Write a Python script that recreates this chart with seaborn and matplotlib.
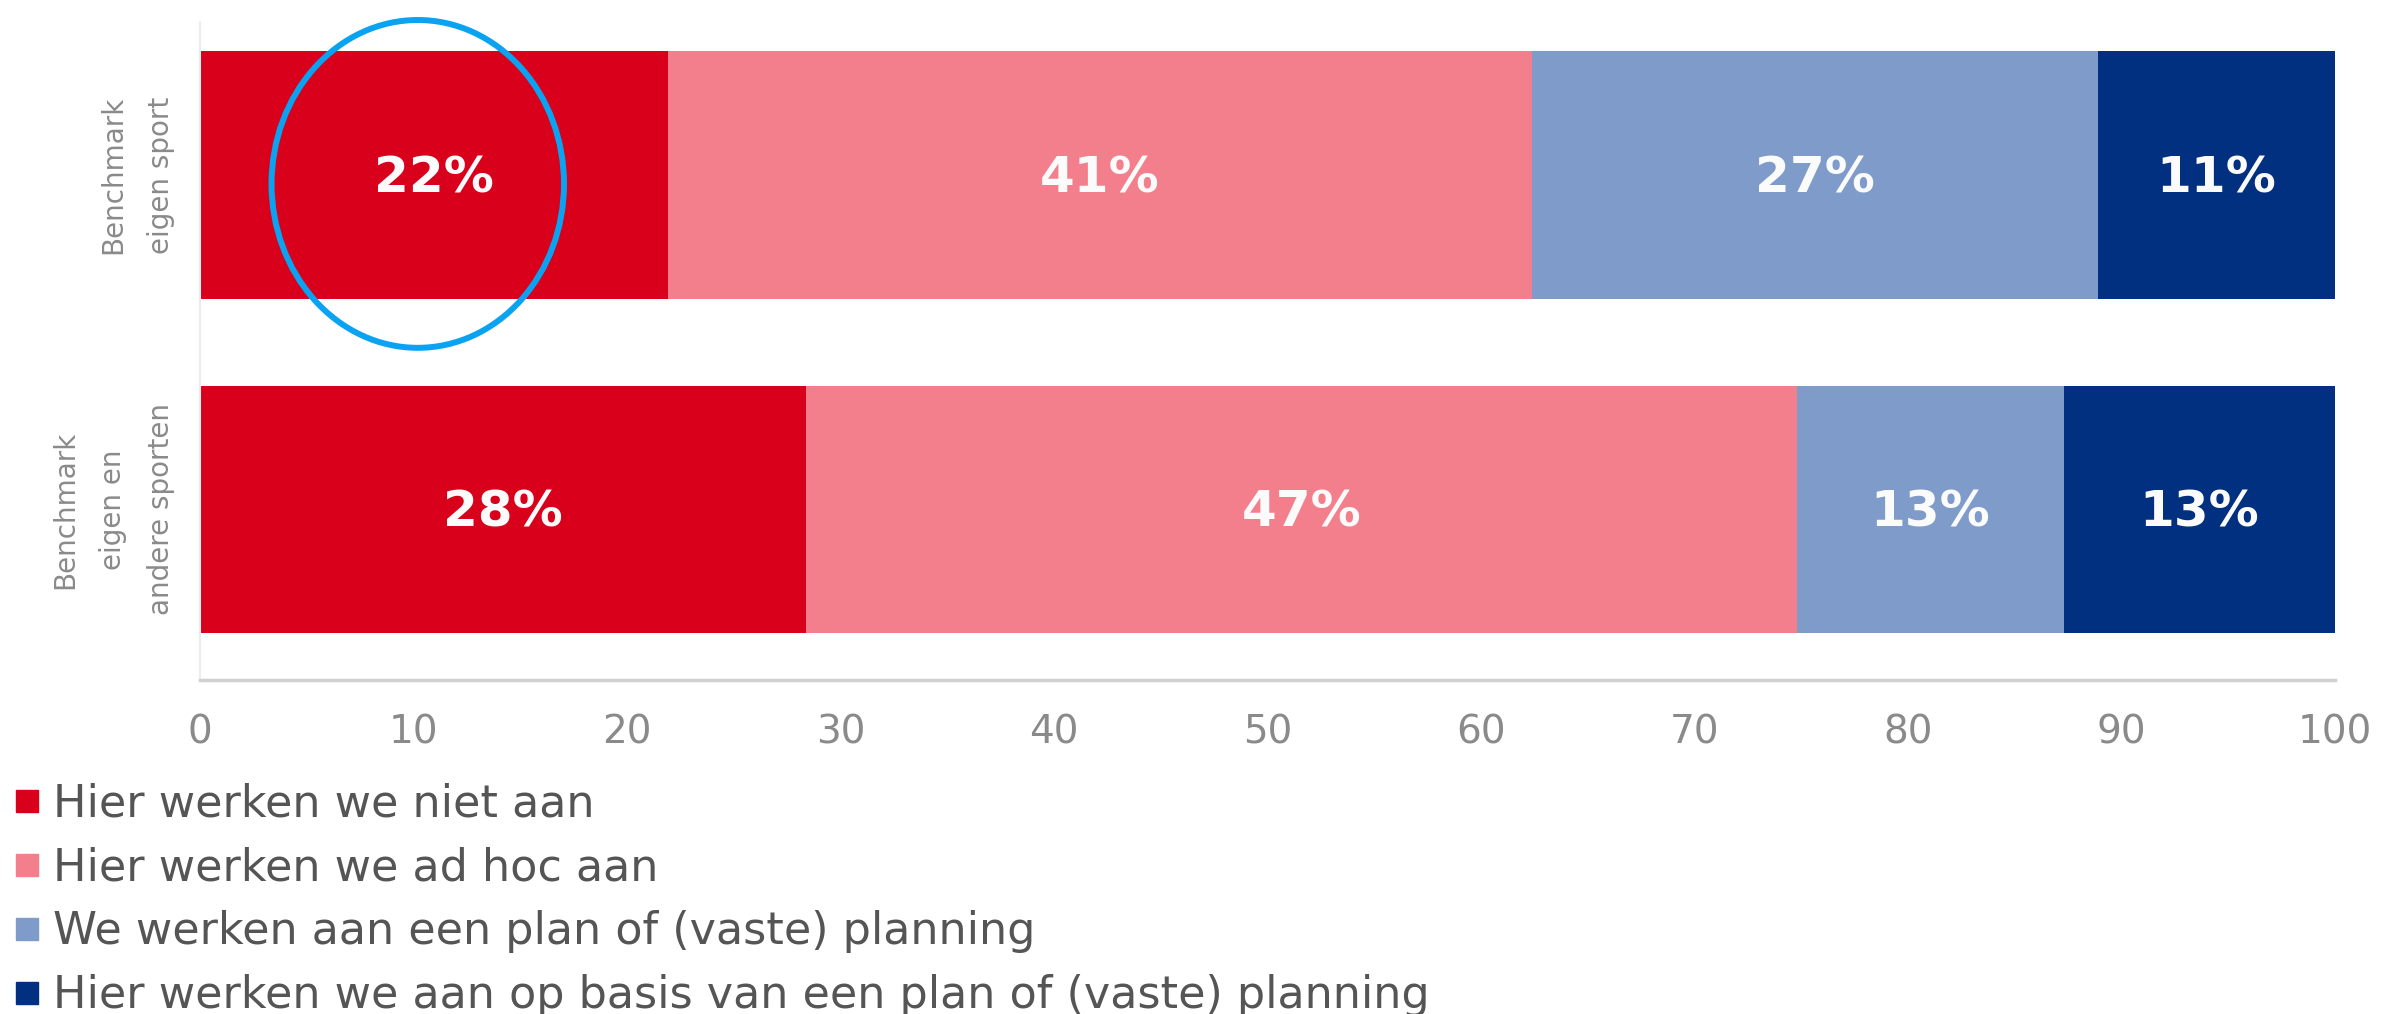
import pandas as pd
import numpy as np
import matplotlib
matplotlib.use('Agg')
import matplotlib.pyplot as plt
from matplotlib.lines import Line2D
from matplotlib.patches import Ellipse
import seaborn as sns

# data
groups = ['Benchmark\neigen sport', 'Benchmark\neigen en\nandere sporten']
series = ['Hier werken we niet aan',
          'Hier werken we ad hoc aan',
          'We werken aan een plan of (vaste) planning',
          'Hier werken we aan op basis van een plan of (vaste) planning']
niet_aan = [21.9, 28.4]
ad_hoc = [40.5, 46.4]
plan = [26.5, 12.5]
op_basis = [11.1, 12.7]
labels_top = ['22%', '41%', '27%', '11%']
labels_bottom = ['28%', '47%', '13%', '13%']
colors = ['#D8001B', '#F27F8B', '#7E9BCA', '#00307F']

sns.set_style('white')
plt.rcParams['font.family'] = ['DejaVu Sans']

df = pd.DataFrame({'group': groups, series[0]: niet_aan, series[1]: ad_hoc,
                   series[2]: plan, series[3]: op_basis})
cum = df[series].cumsum(axis=1)

fig = plt.figure(figsize=(24.07, 10.14), dpi=100)
ax = fig.add_axes([0.0831, 0.3294, 0.8869, 0.6489])

# stacked bars: draw cumulative totals from the longest down
for s, c in reversed(list(zip(series, colors))):
    sns.barplot(x=cum[s], y=df['group'], orient='h', color=c,
                width=0.74, saturation=1, ax=ax, linewidth=0)

# percentage labels in the middle of each segment
all_labels = [labels_top, labels_bottom]
for i in range(len(groups)):
    for j, s in enumerate(series):
        mid = cum.loc[i, s] - df.loc[i, s] / 2
        ax.text(mid, i + 0.01, all_labels[i][j], ha='center', va='center',
                color='#fbfbfb', fontsize=36, fontweight='bold')

ax.set_xlim(0, 100)
ax.set_ylim(1.51, -0.457)
ax.set_xticks(range(0, 101, 10))
ax.set_xlabel('')
ax.set_ylabel('')
ax.set_yticks([0, 1])
ax.set_yticklabels(groups, rotation=90, va='center', ha='right',
                   fontsize=20, color='#8a8a8a', linespacing=1.9,
                   multialignment='center')
ax.tick_params(axis='y', length=0, pad=18)
ax.tick_params(axis='x', length=12, width=1.2, color='#cfcfcf',
               labelsize=28, labelcolor='#8a8a8a', pad=12)
for side in ['top', 'right']:
    ax.spines[side].set_visible(False)
ax.spines['left'].set_color('#ececec')
ax.spines['left'].set_linewidth(1.5)
ax.spines['bottom'].set_color('#d0d0d0')
ax.spines['bottom'].set_linewidth(2.5)

# highlight circle around the first value
ax.add_patch(Ellipse((10.2, 0.027), 13.7, 0.98, fill=False,
                     edgecolor='#0AA3F2', linewidth=4.3, clip_on=False))

handles = [Line2D([0], [0], marker='s', linestyle='none', markersize=16,
                  markerfacecolor=c, markeredgecolor=c) for c in colors]
fig.legend(handles, series, loc='upper left', bbox_to_anchor=(0.0, 0.237),
           frameon=False, fontsize=32, labelcolor='#555555',
           handletextpad=0.2, labelspacing=0.47, borderaxespad=0,
           handlelength=0.8, borderpad=0.2)

fig.savefig('out.png', dpi=100)
